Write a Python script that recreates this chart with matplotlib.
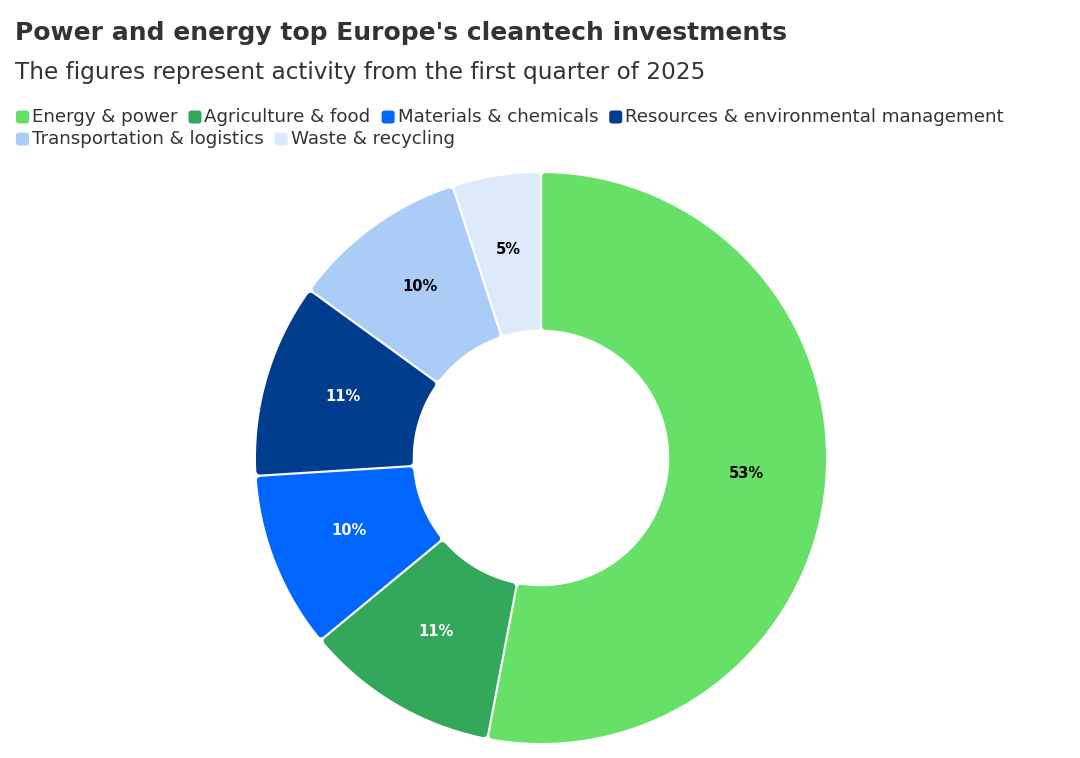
import numpy as np
import matplotlib
matplotlib.use("Agg")
import matplotlib.pyplot as plt
from matplotlib.path import Path
from matplotlib.patches import PathPatch, FancyBboxPatch

# data
categories = ["Energy & power", "Agriculture & food", "Materials & chemicals",
              "Resources & environmental management", "Transportation & logistics",
              "Waste & recycling"]
shares = [53, 11, 10, 11, 10, 5]
colors = ["#66e066", "#34a85a", "#0066ff", "#003d8f", "#aaccf7", "#dceafc"]
label_colors = ["black", "white", "white", "white", "black", "black"]

title = "Power and energy top Europe's cleantech investments"
subtitle = "The figures represent activity from the first quarter of 2025"

plt.rcParams["font.family"] = ["DejaVu Sans"]

W, H = 1080, 758
fig = plt.figure(figsize=(W / 100, H / 100), dpi=100)

# donut centred at (541, 458) px, outer radius 285 px
cx, cy, R_px = 541, 458, 285
ax = fig.add_axes([(cx - R_px) / W, (H - cy - R_px) / H, 2 * R_px / W, 2 * R_px / H])

inner = 0.45
wedges, texts, autotexts = ax.pie(
    shares, colors=colors, startangle=90, counterclock=False, radius=1,
    wedgeprops=dict(width=1 - inner), autopct=lambda p: f"{round(p)}%",
    pctdistance=(1 + inner) / 2,
    textprops=dict(fontsize=10.5, fontweight="bold"))
ax.set_xlim(-1, 1)
ax.set_ylim(-1, 1)
ax.set_aspect("equal")
ax.axis("off")

for t, c in zip(autotexts, label_colors):
    t.set_color(c)
    t.set_zorder(5)
    x, y = t.get_position()
    t.set_position((x, y + 4 / R_px))   # nudge up a little, as in the reference


def rounded_sector(th1, th2, r_in, r_out, g, c):
    # annular sector with constant-width gaps, shrunk so a round stroke restores size
    ro, ri, gg = r_out - c, r_in + c, g + c
    a1o = np.radians(th1) + np.arcsin(gg / ro)
    a2o = np.radians(th2) - np.arcsin(gg / ro)
    a1i = np.radians(th1) + np.arcsin(gg / ri)
    a2i = np.radians(th2) - np.arcsin(gg / ri)
    to = np.linspace(a1o, a2o, 120)
    ti = np.linspace(a2i, a1i, 60)
    pts = np.concatenate([np.c_[ro * np.cos(to), ro * np.sin(to)],
                          np.c_[ri * np.cos(ti), ri * np.sin(ti)]])
    pts = np.vstack([pts, pts[:1]])
    codes = [Path.MOVETO] + [Path.LINETO] * (len(pts) - 2) + [Path.CLOSEPOLY]
    return Path(pts, codes)


gap = 1.1 / R_px      # half gap
corner = 3.5 / R_px   # corner radius
for w in wedges:
    p = rounded_sector(w.theta1, w.theta2, inner, 1.0, gap, corner)
    fc = w.get_facecolor()
    ax.add_patch(PathPatch(p, facecolor=fc, edgecolor=fc, lw=2 * 3.5 * 0.72,
                           joinstyle="round", zorder=1))
    w.set_visible(False)

# title and subtitle
fig.text(15 / W, 1 - 33 / H, title, fontsize=18, fontweight="bold",
         color="#333333", va="center", ha="left")
fig.text(15 / W, 1 - 73 / H, subtitle, fontsize=16.7, color="#333333",
         va="center", ha="left")

# legend laid out like the reference (flowing, two rows)
renderer = fig.canvas.get_renderer()
rows = [categories[:4], categories[4:]]
row_y = [117, 139]
sq = 13
idx = 0
for row, y in zip(rows, row_y):
    x = 16
    for name in row:
        fig.patches.append(FancyBboxPatch(
            (x / W, (H - y - sq / 2) / H), sq / W, sq / H,
            boxstyle="round,pad=0,rounding_size=0.003", transform=fig.transFigure,
            facecolor=colors[idx], edgecolor="none"))
        t = fig.text((x + sq + 3) / W, 1 - y / H, name, fontsize=13.15,
                     color="#333333", va="center", ha="left")
        bb = t.get_window_extent(renderer)
        x = bb.x1 + 11
        idx += 1

fig.savefig("out.png", dpi=100)
